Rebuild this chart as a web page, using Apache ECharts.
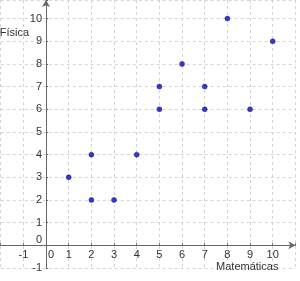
<!DOCTYPE html>
<html>
<head>
<meta charset="utf-8">
<script src="https://cdn.jsdelivr.net/npm/echarts@6/dist/echarts.min.js"></script>
<style>
html, body { margin: 0; padding: 0; background: #fff; }
#main { width: 300px; height: 281px; }
</style>
</head>
<body>
<div id="main"></div>
<script>
// notas: matemáticas (x) vs física (y)
const matematicas = [1, 2, 2, 3, 4, 5, 5, 6, 7, 7, 8, 9, 10];
const fisica      = [3, 4, 2, 2, 4, 7, 6, 8, 7, 6, 10, 6, 9];
const xName = 'Matemáticas';
const yName = 'Física';

const points = matematicas.map((m, i) => [m, fisica[i]]);
const chart = echarts.init(document.getElementById('main'));

const axisColor = '#666';
const gridLine = { show: true, lineStyle: { color: '#d4d4d4', type: [3, 3], width: 1 } };

chart.setOption({
	animation: false,
	grid: { left: 0.7, right: 4.6, top: 0, bottom: 13, containLabel: false, outerBoundsMode: 'none' },
	xAxis: {
		type: 'value',
		min: -2,
		max: 11,
		interval: 1,
		position: 'bottom',
		offset: -22.7,   // eje sobre y = 0
		name: xName,
		nameLocation: 'end',
		nameGap: -17,
		nameMoveOverlap: false,
		nameTextStyle: { color: '#333', fontSize: 11, align: 'right', verticalAlign: 'top', padding: [16, 0, 0, 0] },
		axisLine: { onZero: false, symbol: ['none', 'arrow'], symbolSize: [6, 7], lineStyle: { color: axisColor, width: 1 } },
		axisTick: { show: true, length: 2, inside: true, lineStyle: { color: axisColor } },
		axisLabel: {
			color: '#333', fontSize: 11, margin: 4,
			formatter: v => (v === 0 ? '{z|0}' : (v < -1 || v > 10 ? '' : String(v))),
			rich: { z: { color: '#333', fontSize: 11, padding: [0, 0, 0, 10] } }
		},
		splitLine: gridLine
	},
	yAxis: {
		type: 'value',
		min: -1,
		max: 10.82,
		interval: 1,
		position: 'left',
		offset: -45.3,   // eje sobre x = 0
		name: yName,
		nameLocation: 'end',
		nameGap: -33,
		nameMoveOverlap: false,
		nameTextStyle: { color: '#333', fontSize: 11, align: 'right', verticalAlign: 'middle', padding: [0, 17, 0, 0] },
		axisLine: { onZero: false, symbol: ['none', 'arrow'], symbolSize: [6, 7], lineStyle: { color: axisColor, width: 1 } },
		axisTick: { show: true, length: 2, inside: true, lineStyle: { color: axisColor } },
		axisLabel: {
			color: '#333', fontSize: 11, margin: 4,
			formatter: v => (v === 0 ? '{z|0}' : (Number.isInteger(v) ? String(v) : '')),
			rich: { z: { color: '#333', fontSize: 11, padding: [0, 0, 11, 0] } }
		},
		splitLine: gridLine
	},
	series: [{
		type: 'scatter',
		data: points,
		symbolSize: 5,
		itemStyle: { color: '#0a0ac4', borderColor: '#000070', borderWidth: 0.5 }
	}]
});
</script>
</body>
</html>
